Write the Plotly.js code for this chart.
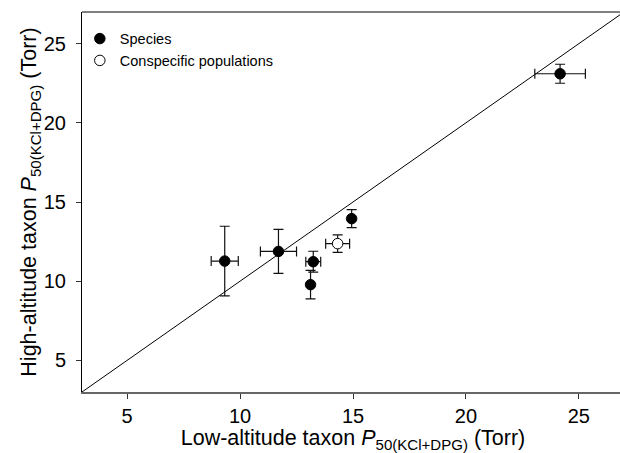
<!DOCTYPE html>
<html>
<head>
<meta charset="utf-8">
<script src="https://cdn.plot.ly/plotly-3.0.1.min.js"></script>
<style>
html,body{margin:0;padding:0;overflow:hidden;background:#fff;}
#chart{width:624px;height:453px;}
</style>
</head>
<body>
<div id="chart"></div>
<script>
// Species (filled)
const speciesLow   = [9.32, 11.70, 13.12, 13.24, 14.94, 24.17];
const speciesHigh  = [11.27, 11.88, 9.78, 11.23, 13.95, 23.10];
const speciesLowErr  = [0.60, 0.80, 0, 0.33, 0, 1.12];
const speciesHighErr = [2.20, 1.39, 0.90, 0.66, 0.57, 0.60];
// Conspecific populations (open)
const popLow   = [14.32];
const popHigh  = [12.37];
const popLowErr  = [0.53];
const popHighErr = [0.55];
// line of identity
const identityX = [3, 27];
const identityY = [3, 27];
const xTicks = [5, 10, 15, 20, 25];
const yTicks = [5, 10, 15, 20, 25];

const FONT = 'Arial, "Liberation Sans", sans-serif';
const errStyle = (arr) => ({type:'data', array:arr, visible:true, color:'#111', thickness:1.2, width:5});

const traces = [
  {x: identityX, y: identityY, mode:'lines', line:{color:'#000', width:1}, showlegend:false, hoverinfo:'skip'},
  {x: speciesLow, y: speciesHigh, mode:'markers', name:'Species',
   marker:{size:10.5, color:'#000', line:{color:'#000', width:1}},
   error_x: errStyle(speciesLowErr), error_y: errStyle(speciesHighErr)},
  {x: popLow, y: popHigh, mode:'markers', name:'Conspecific populations',
   marker:{size:10.5, color:'#fff', line:{color:'#000', width:1}},
   error_x: errStyle(popLowErr), error_y: errStyle(popHighErr)}
];

const layout = {
  width: 624, height: 453,
  margin: {l:82, r:0, t:12, b:61},
  paper_bgcolor:'#fff', plot_bgcolor:'#fff',
  font:{family:FONT, color:'#000', size:20},
  showlegend:true,
  legend:{x:-0.004, y:0.972, xanchor:'left', yanchor:'top', bgcolor:'rgba(0,0,0,0)', borderwidth:0,
          font:{family:FONT, size:14.5, color:'#000'}, itemwidth:30, tracegroupgap:0},
  xaxis:{range:[3,27], tickvals:xTicks, ticktext:xTicks.map(String), ticks:'outside', ticklen:5, tickwidth:1, tickcolor:'#333',
         showgrid:false, zeroline:false, showline:true, linecolor:'#666', linewidth:2,
         tickfont:{family:FONT, size:20},
         title:{text:'Low-altitude taxon <i>P</i><sub>50(KCl+DPG)</sub> (Torr)', font:{family:FONT, size:21.5}, standoff:4}},
  yaxis:{range:[3,27], tickvals:yTicks, ticktext:yTicks.map(String), ticks:'outside', ticklen:5, tickwidth:1, tickcolor:'#333',
         showgrid:false, zeroline:false, showline:true, linecolor:'#000', linewidth:1,
         ticklabelstandoff:6,
         tickfont:{family:FONT, size:20},
         title:{text:'High-altitude taxon <i>P</i><sub>50(KCl+DPG)</sub> (Torr)', font:{family:FONT, size:21.5}, standoff:0}},
  shapes:[{type:'line', xref:'paper', yref:'paper', x0:0, x1:1, y0:1, y1:1, line:{color:'#000', width:1}}]
};

Plotly.newPlot('chart', traces, layout, {displayModeBar:false, staticPlot:true});
</script>
</body>
</html>
